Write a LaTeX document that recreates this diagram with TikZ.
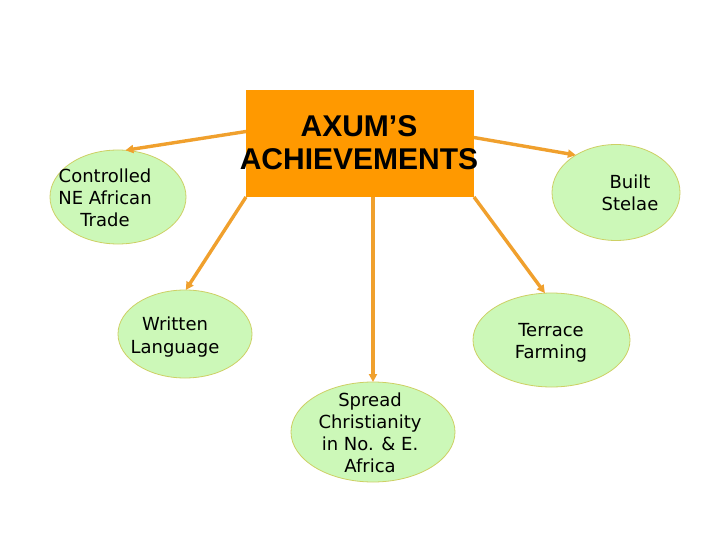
\documentclass[tikz,border=0pt]{standalone}
\usepackage{fontspec}
\setmainfont{DejaVu Sans}
\newfontfamily\titlefont{Liberation Sans}
\usetikzlibrary{shapes.geometric,arrows.meta}
\definecolor{boxorange}{RGB}{255,153,0}
\definecolor{arroworange}{RGB}{240,160,45}
\definecolor{ellfill}{RGB}{204,248,184}
\definecolor{elledge}{RGB}{205,208,100}
\tikzset{
  achv/.style={ellipse, draw=elledge, fill=ellfill, line width=0.8pt, inner sep=0pt, outer sep=0pt},
  lbl/.style={align=center, font=\fontsize{18}{22}\selectfont, text=black, inner sep=0pt},
  conn/.style={draw=arroworange, line width=3.4pt, -{Triangle[length=8pt,width=8pt]}},
  titlebox/.style={rectangle, fill=boxorange, inner sep=0pt, outer sep=0pt, minimum width=228pt, minimum height=107pt}
}
\begin{document}
\begin{tikzpicture}[x=1pt,y=-1pt]
\useasboundingbox[fill=white] (0,0) rectangle (720,540);
% ellipses
\node[achv, minimum width=136pt, minimum height=94pt] (c1) at (118,197) {};
\node[achv, minimum width=134pt, minimum height=88pt] (written) at (185,334) {};
\node[achv, minimum width=164pt, minimum height=100pt] (spread) at (373,432) {};
\node[achv, minimum width=157pt, minimum height=94pt] (terrace) at (551.5,340) {};
\node[achv, minimum width=128pt, minimum height=96pt] (stelae) at (616,192.5) {};
% labels
\node[lbl] (t1) at (105,198) {Controlled\\NE African\\Trade};
\node[lbl, font=\fontsize{18}{23}\selectfont] (t2) at (175,337) {Written\\Language};
\node[lbl] (t3) at (370,433) {Spread\\Christianity\\in No. \& E.\\Africa};
\node[lbl] (t4) at (551,343) {Terrace\\Farming};
\node[lbl] (t5) at (630,193) {Built\\Stelae};
% title box
\node[titlebox] (box) at (360,143.5) {};
\node[align=center, font=\titlefont\bfseries\fontsize{30}{33}\selectfont, inner sep=0pt] (title) at (359,143) {AXUM’S\\ACHIEVEMENTS};
% connectors
\draw[conn] (box.174.7) -- (c1.81);
\draw[conn] (box.south west) -- (written.89);
\draw[conn] (box.south -| spread.north) -- (spread.north);
\draw[conn] (box.3.3) -- (stelae.137);
\draw[conn] (box.south east) -- (terrace.98);
\end{tikzpicture}
\end{document}
